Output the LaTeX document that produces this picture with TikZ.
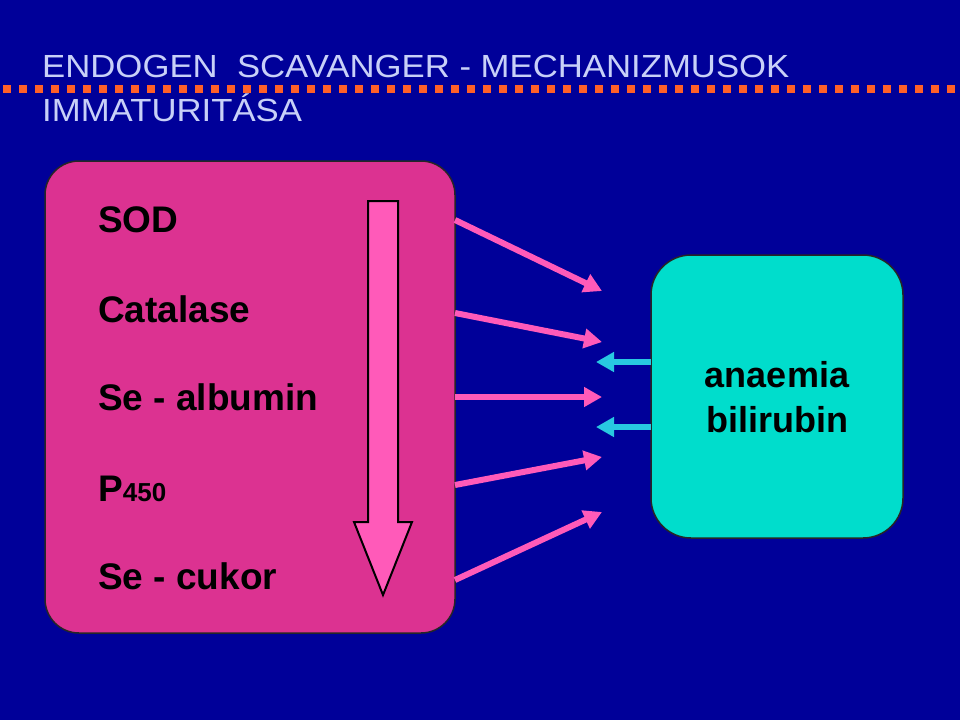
\documentclass[tikz,border=0pt]{standalone}
\usepackage{fontspec}
\setmainfont{Liberation Sans}
\newfontfamily\titlefont[FakeStretch=1.085]{Liberation Sans}
\usetikzlibrary{arrows.meta}
\definecolor{bgblue}{RGB}{0,0,153}
\definecolor{titlecol}{RGB}{200,208,248}
\definecolor{dotorange}{RGB}{255,96,40}
\definecolor{boxpink}{RGB}{220,50,145}
\definecolor{arrpink}{RGB}{255,90,185}
\definecolor{boxcyan}{RGB}{0,221,204}
\definecolor{arrcyan}{RGB}{40,200,225}
\tikzset{
  titletext/.style={anchor=base west, inner sep=0pt, text=titlecol, font=\titlefont\fontsize{32}{38}\selectfont},
  itemtext/.style={anchor=base west, inner sep=0pt, text=black, font=\bfseries\fontsize{37}{44}\selectfont},
  pinkconn/.style={draw=arrpink, line width=6pt, -{Triangle[length=18pt,width=19pt]}},
  cyanconn/.style={draw=arrcyan, line width=6pt, -{Triangle[length=18pt,width=19pt]}},
  roundbox/.style={draw=black!85, line width=1.5pt, rounded corners=#1},
}
\begin{document}
\begin{tikzpicture}[x=1pt,y=-1pt]
\fill[bgblue] (0,0) rectangle (960,720);
\useasboundingbox (0,0) rectangle (960,720);
% title
\node[titletext] (t1) at (42,77) {ENDOGEN\ \ SCAVANGER - MECHANIZMUSOK};
\foreach \i in {0,...,59} { \fill[dotorange] (3+16*\i,85) rectangle (11+16*\i,93); }
\node[titletext] (t2) at (42,121) {IMMATURITÁSA};
% pink box
\draw[roundbox=34pt, fill=boxpink] (45,161) rectangle (455,633);
\node[inner sep=0pt, minimum width=410pt, minimum height=472pt] (pink) at (250,397) {};
\node[itemtext] (sod) at (98,232) {SOD};
\node[itemtext] (cat) at (98,322) {Catalase};
\node[itemtext] (sea) at (98,410) {Se - albumin};
\node[itemtext] (p450) at (98,501) {P{\fontsize{26}{30}\selectfont 450}};
\node[itemtext] (sec) at (98,589) {Se - cukor};
% down arrow
\draw[fill=arrpink, draw=black, line width=2pt, line join=miter]
  (368,201) -- (398,201) -- (398,522) -- (412,522) -- (383,595) -- (354,522) -- (368,522) -- cycle;
% cyan box
\draw[roundbox=40pt, fill=boxcyan] (651,255) rectangle (903,538);
\node[inner sep=0pt, minimum width=252pt, minimum height=283pt, align=center,
      font=\bfseries\fontsize{36}{45}\selectfont] (cyan) at (777,397) {anaemia\\bilirubin};
% connector endpoints
\coordinate (s1) at (455,220); \coordinate (e1) at (602,291);
\coordinate (s2) at (455,313); \coordinate (e2) at (602,342);
\coordinate (s3) at (455,397); \coordinate (e3) at (602,397);
\coordinate (s4) at (455,485); \coordinate (e4) at (602,457);
\coordinate (s5) at (455,580); \coordinate (e5) at (602,512);
\coordinate (c1s) at (651,362); \coordinate (c1e) at (596,362);
\coordinate (c2s) at (651,427); \coordinate (c2e) at (596,427);
\draw[pinkconn] (s1) -- (e1);
\draw[pinkconn] (s2) -- (e2);
\draw[pinkconn] (s3) -- (e3);
\draw[pinkconn] (s4) -- (e4);
\draw[pinkconn] (s5) -- (e5);
\draw[cyanconn] (c1s) -- (c1e);
\draw[cyanconn] (c2s) -- (c2e);
\end{tikzpicture}
\end{document}
